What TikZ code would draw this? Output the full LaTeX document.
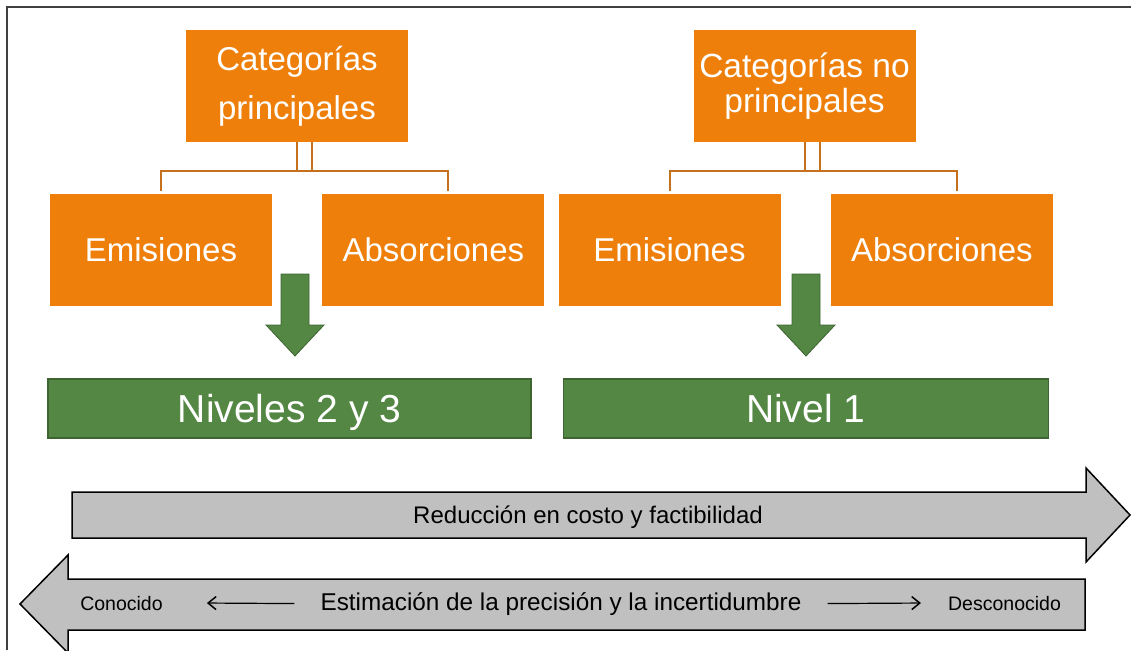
\documentclass[tikz,border=0pt]{standalone}
\usepackage{fontspec}
\setmainfont{Liberation Sans}
\usetikzlibrary{positioning,arrows.meta}
\definecolor{naranja}{RGB}{238,127,10}
\definecolor{rama}{RGB}{196,112,28}
\definecolor{verde}{RGB}{83,135,67}
\definecolor{verdeosc}{RGB}{62,100,50}
\definecolor{gris}{RGB}{192,192,192}
\definecolor{marco}{RGB}{64,64,64}
\begin{document}
\begin{tikzpicture}[x=1pt,y=-1pt,>={Straight Barb[length=8pt,width=13pt,line width=1.5pt]},
                    cat/.style={fill=naranja,text=white,minimum width=222pt,minimum height=112pt,
                                inner sep=0pt,align=center,font=\fontsize{33}{49}\selectfont},
                    nivel/.style={fill=verde,draw=verdeosc,line width=1.2pt,text=white,minimum width=483pt,
                                  minimum height=59pt,inner sep=0pt,text depth=0pt,font=\fontsize{39}{44}\selectfont},
                    bajada/.style={fill=verde,draw=verdeosc,line width=0.8pt},
                    flecha/.style={fill=gris,draw=black,line width=1.5pt,line join=miter},
                    lazo/.style={draw=rama,line width=2pt},
                    texto/.style={inner sep=0pt,anchor=base}]

  \useasboundingbox (0,0) rectangle (1131,650);
  \draw[marco,line width=2.2pt] (1131,7) -- (7,7) -- (7,650);

  \node[cat]   (P)  at (297,86)    {Categorías\\principales};
  \node[cat,font=\fontsize{33.5}{35}\selectfont]
               (NP) at (804.5,86)  {Categorías no\\principales};
  \node[cat]   (E1) at (161,250)   {Emisiones};
  \node[cat]   (A1) [right=50pt of E1] {Absorciones};
  \node[cat]   (E2) at (669.5,250) {Emisiones};
  \node[cat]   (A2) [right=50pt of E2] {Absorciones};
  \node[nivel] (N23) at (289.5,408.5) {Niveles 2 y 3};
  \node[nivel,minimum width=485pt] (N1) [right=31pt of N23] {Nivel 1};

  % ramas
  \draw[lazo] (P.south) -- ++(0,29);
  \draw[lazo] ([xshift=15pt]P.south) -- ++(0,29);
  \draw[lazo] ([yshift=3pt]E1.north) -- ([yshift=23pt]E1.north)
           -- ([xshift=15pt,yshift=23pt]A1.north) -- ([xshift=15pt,yshift=3pt]A1.north);
  \draw[lazo] (NP.south) -- ++(0,29);
  \draw[lazo] ([xshift=15pt]NP.south) -- ++(0,29);
  \draw[lazo] ([yshift=3pt]E2.north) -- ([yshift=23pt]E2.north)
           -- ([xshift=15pt,yshift=23pt]A2.north) -- ([xshift=15pt,yshift=3pt]A2.north);

  \foreach \cx in {295,806}
    \draw[bajada] (\cx-14,274) -- (\cx+14,274) -- (\cx+14,325) -- (\cx+29,325)
                  -- (\cx,356) -- (\cx-29,325) -- (\cx-14,325) -- cycle;

  % flechas grises
  \draw[flecha] (72,492) -- (1086,492) -- (1086,468) -- (1130,515)
             -- (1086,562) -- (1086,538) -- (72,538) -- cycle;
  \draw[flecha] (1085,579) -- (68,579) -- (68,555) -- (20,604)
             -- (68,653) -- (68,630) -- (1085,630) -- cycle;

  \node[texto,font=\fontsize{24}{28}\selectfont] (R)   at (588,523)    {Reducción en costo y factibilidad};
  \node[texto,font=\fontsize{24.3}{28}\selectfont] (est) at (561,610)    {Estimación de la precisión y la incertidumbre};
  \node[texto,font=\fontsize{19.5}{23}\selectfont] (con) at (121.5,610)  {Conocido};
  \node[texto,font=\fontsize{19.5}{23}\selectfont] (des) at (1004.5,610) {Desconocido};

  \draw[->,line width=1.2pt] ([xshift=-26pt]est.west) -- ([xshift=44pt]con.east);
  \draw[->,line width=1.2pt] ([xshift=26pt]est.east) -- ([xshift=-27pt]des.west);
\end{tikzpicture}
\end{document}
